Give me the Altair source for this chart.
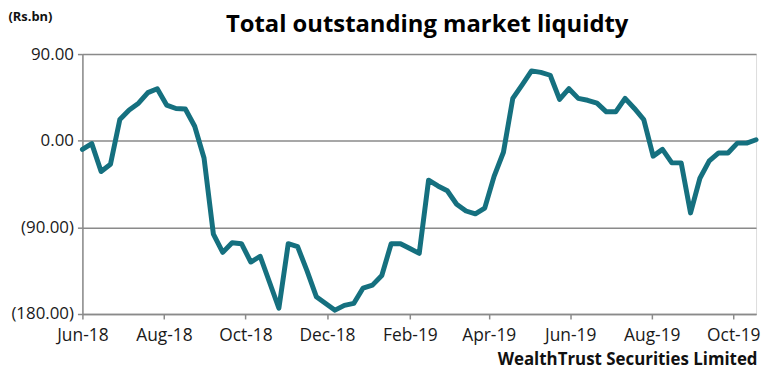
import altair as alt
import pandas as pd

# weekly observations starting 1 Jun 2018
start_date = "2018-06-01"
values = [
    -9, -3, -32, -24.5, 22, 32, 39, 50, 54, 37,
    33.5, 33, 15, -18, -97, -116, -106, -107, -126, -120,
    -147, -174, -107, -110, -135, -162, -169, -176, -171, -169,
    -153, -150, -140, -107, -107, -112, -117, -41, -47, -52,
    -66, -73, -76, -70, -37, -12, 44, 58, 72.5, 71,
    68, 43, 54, 44, 42, 39, 30, 30, 44, 33.5,
    22, -16, -9, -23, -23, -75, -39, -21, -12.7, -12.7,
    -2.5, -2.5, 1,
]
y_ticks = [-180, -90, 0, 90]
x_tick_dates = [(2018, 6), (2018, 8), (2018, 10), (2018, 12), (2019, 2),
                (2019, 4), (2019, 6), (2019, 8), (2019, 10)]

dates = pd.date_range(start_date, periods=len(values), freq="7D")
df = pd.DataFrame({"date": dates.strftime("%Y-%m-%d"), "value": values})

grid_color = "#8a8a8a"
label_font = "Open Sans"

x_axis = alt.Axis(
    values=[alt.DateTime(year=y, month=m, date=1, utc=True) for y, m in x_tick_dates],
    labelExpr="utcFormat(datum.value, '%b-%y')",
    grid=False,
    domainColor=grid_color, domainWidth=1.5,
    tickColor=grid_color, tickSize=5, tickWidth=1.5,
    labelFont=label_font, labelFontSize=17.5, labelColor="#1a1a1a",
    labelPadding=8, labelFlush=False,
    title="WealthTrust Securities Limited",
    titleFont=label_font, titleFontSize=17, titleFontWeight="bold", titleColor="#111111",
    titleAlign="right", titleAnchor="end", titleX=680, titleY=51, titleBaseline="alphabetic",
)

y_axis = alt.Axis(
    values=y_ticks,
    labelExpr="datum.value < 0 ? '(' + format(-datum.value, '.2f') + ')' : format(datum.value, '.2f')",
    grid=True, gridColor=grid_color, gridWidth=1.5,
    domainColor=grid_color, domainWidth=1.5,
    tickColor=grid_color, tickSize=5, tickWidth=1.5,
    labelFont=label_font, labelFontSize=17, labelColor="#1a1a1a", labelPadding=4,
    title="(Rs.bn)", titleAngle=0, titleFont=label_font, titleFontSize=13,
    titleFontWeight="bold", titleColor="#111111",
    titleAlign="left", titleX=-75, titleY=-34, titleBaseline="alphabetic",
)

chart = alt.Chart(df).mark_line(
    color="#15707f", strokeWidth=5, strokeJoin="round", strokeCap="round"
).encode(
    x=alt.X("date:T", axis=x_axis,
            scale=alt.Scale(type="utc", nice=False,
                            domain=[alt.DateTime(year=2018, month=6, date=1, utc=True),
                                    alt.DateTime(year=2019, month=10, date=18, utc=True)])),
    y=alt.Y("value:Q", axis=y_axis, scale=alt.Scale(domain=[-180, 90], nice=False)),
).properties(
    width=679, height=262,
    title=alt.TitleParams(
        "Total outstanding market liquidty",
        font=label_font, fontSize=24, fontWeight="bold", color="#000000",
        anchor="middle", frame="group", dx=8, offset=0, dy=46, baseline="alphabetic",
    ),
    autosize=alt.AutoSizeParams(type="none"),
    padding={"left": 75, "top": 45, "right": 6, "bottom": 55},
).configure_view(stroke=None).configure(background="white")

chart.save("out.html", embed_options={"renderer": "svg", "actions": False})
